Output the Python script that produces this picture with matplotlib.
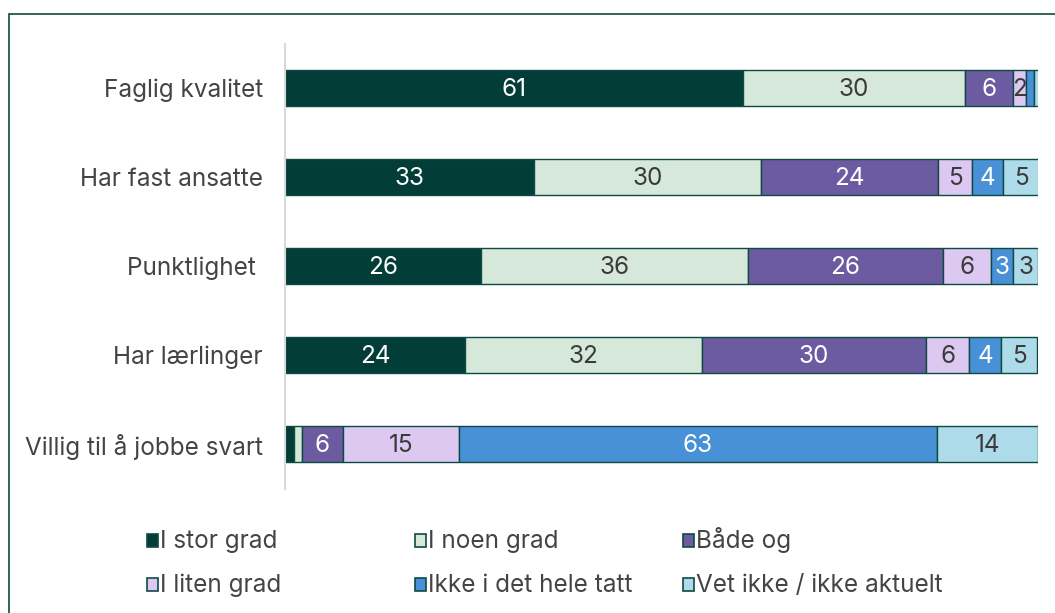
import numpy as np
import matplotlib.pyplot as plt
from matplotlib.patches import Rectangle

plt.rcParams['font.family'] = ['Inter', 'DejaVu Sans']

# Data (percent)
categories = ["Faglig kvalitet", "Har fast ansatte", "Punktlighet ", "Har lærlinger", "Villig til å jobbe svart"]
series = ["I stor grad", "I noen grad", "Både og", "I liten grad", "Ikke i det hele tatt", "Vet ikke / ikke aktuelt"]
values = [
    [60.8, 29.5, 6.4, 1.7, 1.1, 0.7],
    [33.1, 30.1, 23.5, 4.6, 4.0, 4.9],
    [26.0, 35.5, 25.9, 6.4, 2.9, 3.3],
    [23.9, 31.5, 29.7, 5.8, 4.2, 4.8],
    [1.2, 1.0, 5.5, 15.4, 63.5, 13.4],
]
labels = [
    [61, 30, 6, 2, None, None],
    [33, 30, 24, 5, 4, 5],
    [26, 36, 26, 6, 3, 3],
    [24, 32, 30, 6, 4, 5],
    [None, None, 6, 15, 63, 14],
]

colors = ["#023D37", "#D5E8DA", "#6D5BA1", "#DCC8F0", "#4891D6", "#AEDBEA"]
text_colors = ["white", "#3A3A3A", "white", "#3A3A3A", "white", "#3A3A3A"]
edge = "#0E4A43"
fs = 17.5

fig = plt.figure(figsize=(10.55, 6.13), dpi=100)
W, H = 1055, 613

# outer frame (left and top edges visible)
fig.patches.append(Rectangle((9 / W, -0.1), 1.2, 1 - 14 / H + 0.1, transform=fig.transFigure,
                             fill=False, edgecolor=edge, linewidth=1.2))

ax = fig.add_axes([285 / W, 1 - 488.5 / H, (1038 - 285) / W, (488.5 - 43.5) / H])
vals = np.array(values)
y = np.arange(len(categories))
left = np.zeros(len(categories))
for j, name in enumerate(series):
    ax.barh(y, vals[:, j], left=left, height=0.41, color=colors[j],
            edgecolor=edge, linewidth=1.0, label=name)
    for i in range(len(categories)):
        lab = labels[i][j]
        if lab is not None:
            ax.text(left[i] + vals[i, j] / 2, y[i] + 0.02, str(lab), ha="center", va="center",
                    fontsize=fs, color=text_colors[j])
    left += vals[:, j]

ax.set_xlim(0, 100)
ax.set_ylim(4.5, -0.5)
ax.set_yticks(y)
ax.set_yticklabels(categories, fontsize=fs, color="#444444")
ax.tick_params(axis="y", length=0, pad=16)
ax.set_xticks([])
for s in ["top", "right", "bottom"]:
    ax.spines[s].set_visible(False)
ax.spines["left"].set_color("#D9D9D9")
ax.spines["left"].set_linewidth(1.5)

# legend, two rows of three
for k, name in enumerate(series):
    row, col = divmod(k, 3)
    x0 = 147 + col * 268
    yc = 540 + row * 44
    fig.patches.append(Rectangle((x0 / W, 1 - (yc + 6.5) / H), 11 / W, 13 / H,
                                 transform=fig.transFigure, facecolor=colors[k],
                                 edgecolor=edge, linewidth=1.2))
    fig.text((x0 + 13) / W, 1 - (yc + 8) / H, name, ha="left", va="baseline",
             fontsize=fs, color="#444444")

fig.savefig("out.png", dpi=100)
